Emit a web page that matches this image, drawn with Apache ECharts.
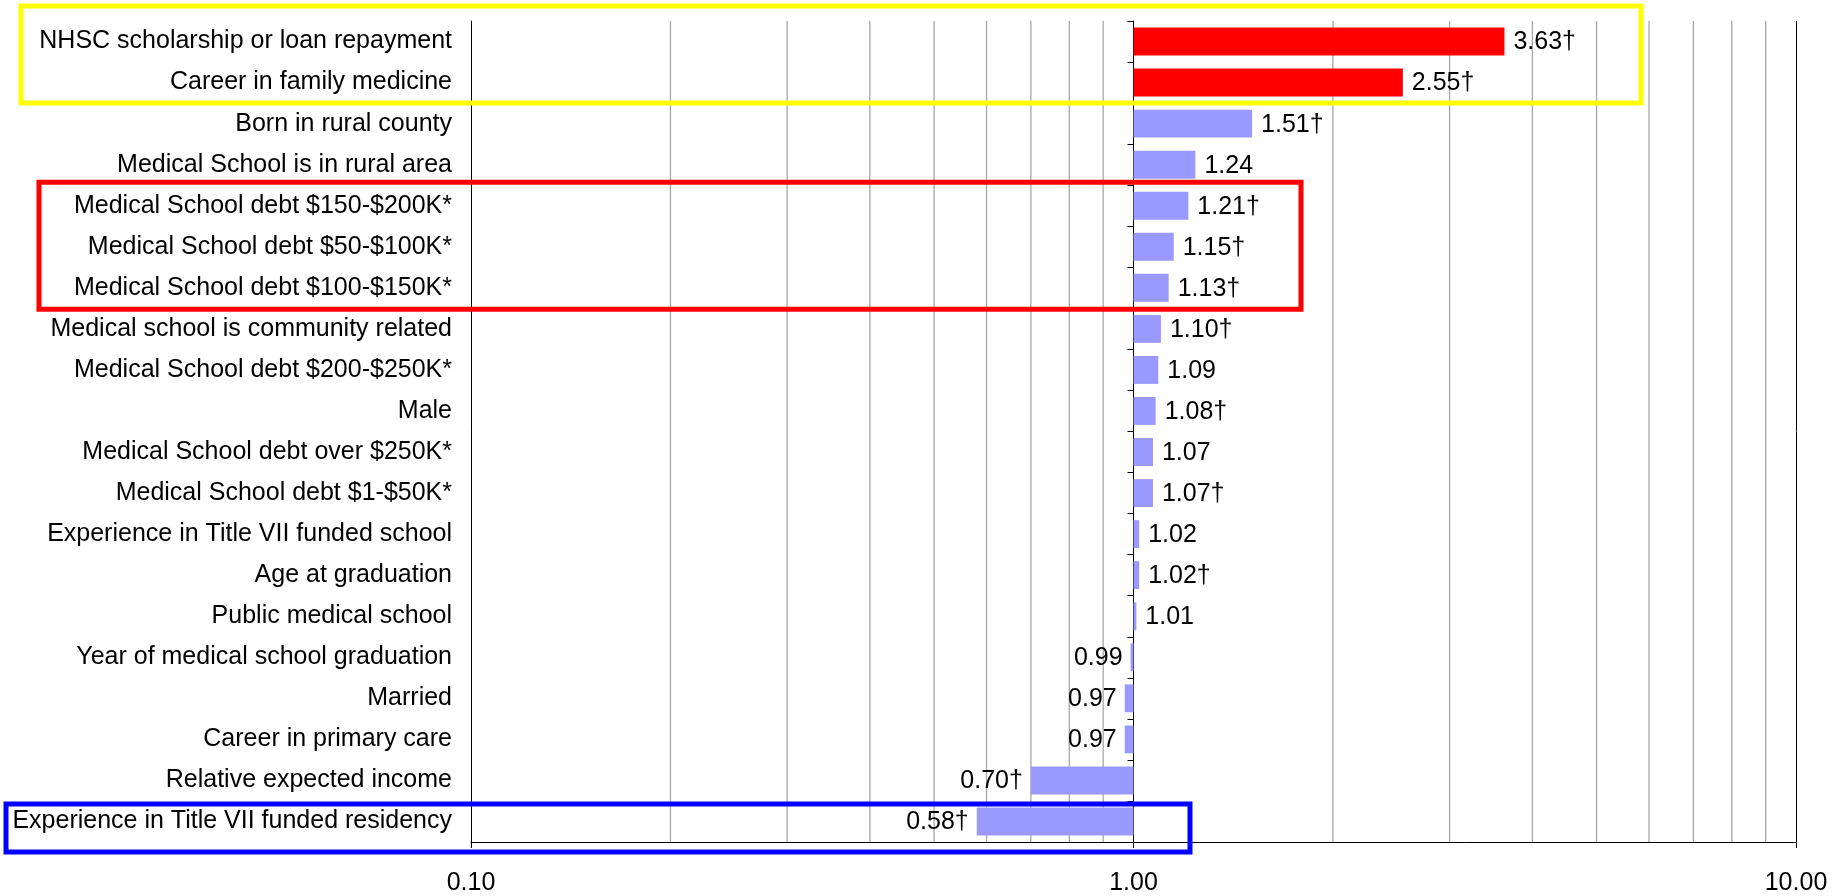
<!DOCTYPE html>
<html>
<head>
<meta charset="utf-8">
<script src="https://cdn.jsdelivr.net/npm/echarts@6/dist/echarts.min.js"></script>
<style>
html,body{margin:0;padding:0;background:#fff;}
#chart{width:1841px;height:896px;}
</style>
</head>
<body>
<div id="chart"></div>
<script>
const categories = [
  "NHSC scholarship or loan repayment",
  "Career in family medicine",
  "Born in rural county",
  "Medical School is in rural area",
  "Medical School debt $150-$200K*",
  "Medical School debt $50-$100K*",
  "Medical School debt $100-$150K*",
  "Medical school is community related",
  "Medical School debt $200-$250K*",
  "Male",
  "Medical School debt over $250K*",
  "Medical School debt $1-$50K*",
  "Experience in Title VII funded school",
  "Age at graduation",
  "Public medical school",
  "Year of medical school graduation",
  "Married",
  "Career in primary care",
  "Relative expected income",
  "Experience in Title VII funded residency"
];
const oddsRatios = [3.63, 2.55, 1.51, 1.24, 1.21, 1.15, 1.13, 1.10, 1.09, 1.08, 1.07, 1.07, 1.02, 1.02, 1.01, 0.99, 0.97, 0.97, 0.70, 0.58];
const significant = [true, true, true, false, true, true, true, true, false, true, false, true, false, true, false, false, false, false, true, true];
const highlighted = ["NHSC scholarship or loan repayment", "Career in family medicine"];
const minorGridValues = [0.2, 0.3, 0.4, 0.5, 0.6, 0.7, 0.8, 0.9, 2, 3, 4, 5, 6, 7, 8, 9];
const baseline = 1;

const FONT = '"Liberation Sans", Arial, sans-serif';
const FS = 25;

const chart = echarts.init(document.getElementById('chart'));

const barData = oddsRatios.map((v, i) => [v, i, significant[i] ? 1 : 0]);

const option = {
  animation: false,
  backgroundColor: '#fff',
  grid: { left: 471, right: 45, top: 21, bottom: 54, containLabel: false },
  xAxis: {
    type: 'log', logBase: 10, min: 0.1, max: 10,
    axisLine: { show: true, lineStyle: { color: '#000', width: 1 } },
    axisTick: { show: true, inside: false, length: 6, lineStyle: { color: '#000' } },
    axisLabel: {
      margin: 29, color: '#000', fontSize: FS, fontFamily: FONT,
      formatter: v => Number(v).toFixed(2)
    },
    splitLine: { show: true, lineStyle: { color: '#000', width: 1 } }
  },
  yAxis: [{
    type: 'category', data: categories, inverse: true,
    axisLine: { show: true, lineStyle: { color: '#000', width: 1 } },
    axisTick: { show: false },
    axisLabel: { margin: 19, color: '#000', fontSize: FS, fontFamily: FONT },
    splitLine: { show: false }
  }, {
    type: 'category', data: categories, inverse: true, position: 'left', offset: 0,
    axisLine: { show: true, lineStyle: { color: '#000', width: 1 } },
    axisTick: { show: true, inside: false, length: 6, lineStyle: { color: '#000' } },
    axisLabel: { show: false },
    splitLine: { show: false }
  }],
  series: [{
    type: 'custom',
    name: 'minorGrid',
    silent: true,
    z: 1,
    data: minorGridValues.map(v => [v, 0]),
    encode: { x: 0, y: 1 },
    renderItem: function (params, api) {
      const x = api.coord([api.value(0), 0])[0];
      const cs = params.coordSys;
      return {
        type: 'line',
        shape: { x1: x, y1: cs.y, x2: x, y2: cs.y + cs.height },
        style: { stroke: '#a6a6a6', lineWidth: 1.3 }
      };
    }
  }, {
    type: 'custom',
    name: 'Odds ratio',
    z: 5,
    data: barData,
    encode: { x: 0, y: 1 },
    renderItem: function (params, api) {
      const v = api.value(0);
      const idx = api.value(1);
      const sig = api.value(2);
      const p0 = api.coord([baseline, idx]);
      const p1 = api.coord([v, idx]);
      const band = Math.abs(api.coord([baseline, 1])[1] - api.coord([baseline, 0])[1]);
      const h = band * 0.68;
      const left = Math.min(p0[0], p1[0]);
      const w = Math.abs(p1[0] - p0[0]);
      const color = highlighted.indexOf(categories[idx]) >= 0 ? '#ff0000' : '#9999ff';
      const label = v.toFixed(2) + (sig ? '\u2020' : '');
      const isUp = v >= baseline;
      return {
        type: 'group',
        children: [{
          type: 'rect',
          shape: { x: left, y: p0[1] - h / 2, width: w, height: h },
          style: { fill: color }
        }, {
          type: 'text',
          x: isUp ? p1[0] + 9 : p1[0] - 8,
          y: p0[1] + 1,
          style: {
            text: label, fill: '#000', fontSize: FS, fontFamily: FONT,
            align: isUp ? 'left' : 'right', verticalAlign: 'middle'
          }
        }]
      };
    }
  }]
};

chart.setOption(option);

// place the crossing axis at x = 1 and draw annotation boxes from category positions
const xOne = chart.convertToPixel({ xAxisIndex: 0 }, baseline);
const gridLeft = 471;
const rowY = i => chart.convertToPixel({ yAxisIndex: 0 }, categories[i]);
const band = Math.abs(rowY(1) - rowY(0));
const rowTop = i => rowY(i) - band / 2;
const rowBottom = i => rowY(i) + band / 2;

const boxes = [
  { from: 0, to: 1, x1: 21, x2: 1641, dTop: -15, dBottom: 0, color: '#ffff00' },
  { from: 4, to: 6, x1: 39, x2: 1301, dTop: -3, dBottom: 1, color: '#ff0000' },
  { from: 19, to: 19, x1: 6, x2: 1190, dTop: 3, dBottom: 10, color: '#0000ff' }
];

chart.setOption({
  yAxis: [{}, { offset: -(xOne - gridLeft) }],
  graphic: boxes.map(b => ({
    type: 'rect',
    z: 100,
    silent: true,
    shape: {
      x: b.x1, y: rowTop(b.from) + b.dTop,
      width: b.x2 - b.x1, height: (rowBottom(b.to) + b.dBottom) - (rowTop(b.from) + b.dTop)
    },
    style: { fill: 'none', stroke: b.color, lineWidth: 5 }
  }))
});
</script>
</body>
</html>
